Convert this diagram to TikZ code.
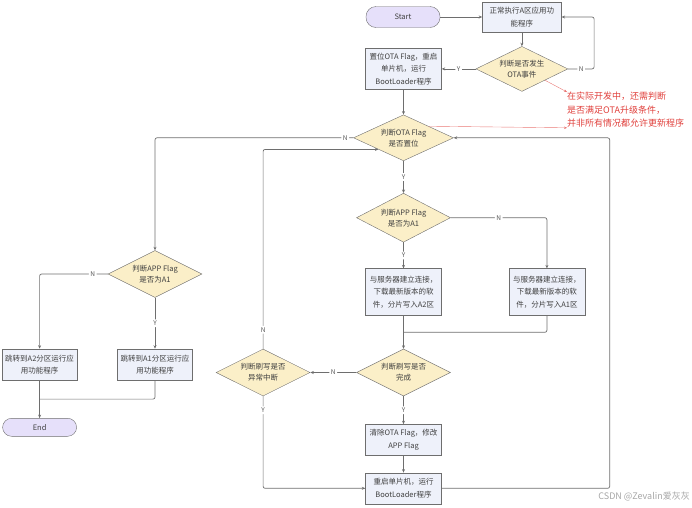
\documentclass[tikz,border=0pt]{standalone}
\usepackage{fontspec}
\setmainfont{Noto Sans CJK SC}
\definecolor{boxbg}{HTML}{EEF1FA}
\definecolor{diabg}{HTML}{FBEFC8}
\definecolor{termbg}{HTML}{E6E0FA}
\definecolor{edgegray}{HTML}{6E6E6E}
\definecolor{notered}{HTML}{E0403C}
\usepackage{tikz}
\usetikzlibrary{arrows.meta,positioning,shapes.geometric,calc}

\begin{document}
\begin{tikzpicture}[x=1pt, y=-1pt,
      mod/.style={draw=edgegray, fill=boxbg, minimum width=76pt, minimum height=31pt,
                  inner sep=1pt, font=\fontsize{7.5}{12.5}\selectfont, align=center,
                  text=black!75},
      dec/.style={diamond, draw=edgegray, fill=diabg, aspect=2, inner sep=0pt,
                  minimum width=94pt, minimum height=47pt,
                  font=\fontsize{7.5}{11}\selectfont, align=center, text=black!75},
      term/.style={draw=edgegray, fill=termbg, rounded corners=10pt,
                   minimum width=74pt, minimum height=21pt,
                   font=\fontsize{7.5}{9}\selectfont, text=black!75},
      arr/.style={-{Stealth[length=3.5pt,width=3pt]}, line width=0.7pt, draw=edgegray,
                  rounded corners=2pt},
      ln/.style={line width=0.7pt, draw=edgegray, rounded corners=2pt},
      lbl/.style={fill=white, inner sep=1.5pt, font=\fontsize{6.5}{7}\selectfont,
                  text=black!65},
      rem/.style={text=notered, align=left, inner sep=0pt,
                  font=\fontsize{9}{13.5}\selectfont},
      rarr/.style={-{Stealth[length=3pt,width=2.5pt]}, line width=0.4pt, draw=notered!70}
  ]
    \useasboundingbox (0,0) rectangle (692,507);
    \node[term] (start) at (403,17) {Start};
    \node[mod, minimum width=79pt, minimum height=30pt, right=42pt of start] (run) {正常执行A区应用功\\能程序};
    \node[dec, minimum width=92pt, minimum height=45pt, below=14pt of run] (ota) {判断是否发生\\OTA事件};
    \node[mod, minimum height=41pt, left=34pt of ota] (flag) {置位OTA Flag，重启\\单片机，运行\\BootLoader程序};
    \node[dec, minimum width=100pt, minimum height=46pt, below=25pt of flag] (otaflag) {判断OTA Flag\\是否置位};
    \node[dec, minimum height=49pt, below=32pt of otaflag] (appR) {判断APP Flag\\是否为A1};
    \node[mod, minimum height=47pt, below=26pt of appR] (dlA2) {与服务器建立连接，\\下载最新版本的软\\件，分片写入A2区};
    \node[mod, minimum height=47pt, right=67pt of dlA2] (dlA1) {与服务器建立连接，\\下载最新版本的软\\件，分片写入A1区};
    \node[dec, below=33pt of dlA2] (done) {判断刷写是否\\完成};
    \node[dec, left=46pt of done] (abort) {判断刷写是否\\异常中断};
    \node[mod, below=28pt of done] (clear) {清除OTA Flag，修改\\APP Flag};
    \node[mod, below=17pt of clear] (reboot) {重启单片机，运行\\BootLoader程序};
    \node[dec] (appL) at (155,274) {判断APP Flag\\是否为A1};
    \node[mod, minimum width=75pt, below=51pt of appL] (jmpA1) {跳转到A1分区运行应\\用功能程序};
    \node[mod, minimum width=75pt, left=40pt of jmpA1] (jmpA2) {跳转到A2分区运行应\\用功能程序};
    \node[term, minimum height=18pt, rounded corners=9pt, below=38pt of jmpA2] (end) {End};
    \node[rem, anchor=north west] (note) at (567,92) {在实际开发中，还需判断\\是否满足OTA升级条件，\\并非所有情况都允许更新程序};
    \node[anchor=south east, inner sep=0pt, text=black!35, font=\fontsize{9}{10}\selectfont] (wm) at (690,501) {CSDN @Zevalin爱灰灰};

    \draw[arr] (start) -- (run);
    \draw[arr] (run) -- (ota);
    \draw[arr] (ota) -- node[lbl]{Y} (flag);
    \draw[arr] (ota.east) -- node[lbl]{N} ++(26,0) |- (run.east);
    \draw[arr] (flag) -- (otaflag);
    \draw[arr] (otaflag) -- node[lbl]{Y} (appR);
    \draw[arr] (otaflag.west) -- node[lbl]{N} ++(-16,0) -| (appL.north);
    \draw[arr] (appR) -- node[lbl]{Y} (dlA2);
    \draw[arr] (appR.east) -| node[lbl, pos=.25]{N} (dlA1.north);
    \coordinate (mrgR) at ($(dlA2.south)!.5!(done.north)$);
    \draw[arr] (dlA2) -- (done);
    \draw[ln] (dlA1.south) |- (mrgR);
    \draw[arr] (done) -- node[lbl]{N} (abort);
    \draw[arr] (abort.north) -- node[lbl]{N} ++(0,-38) |- (otaflag.south west);
    \draw[arr] (abort.south) -- node[lbl]{Y} ++(0,28) |- (reboot.west);
    \draw[arr] (done) -- node[lbl]{Y} (clear);
    \draw[arr] (clear) -- (reboot);
    \draw[arr] (reboot.east) -- ++(168,0) |- (otaflag.east);
    \draw[arr] (appL) -- node[lbl]{Y} (jmpA1);
    \draw[arr] (appL.west) -- node[lbl]{N} ++(-30,0) -| (jmpA2.north);
    \coordinate (mrgL) at ($(jmpA2.south)!.5!(end.north)$);
    \draw[arr] (jmpA2) -- (end);
    \draw[ln] (jmpA1.south) |- (mrgL);
    \draw[rarr] (ota.south east) -- (note.north west);
    \draw[rarr] (otaflag.north east) -- (note.south west);
  \end{tikzpicture}
\end{document}
